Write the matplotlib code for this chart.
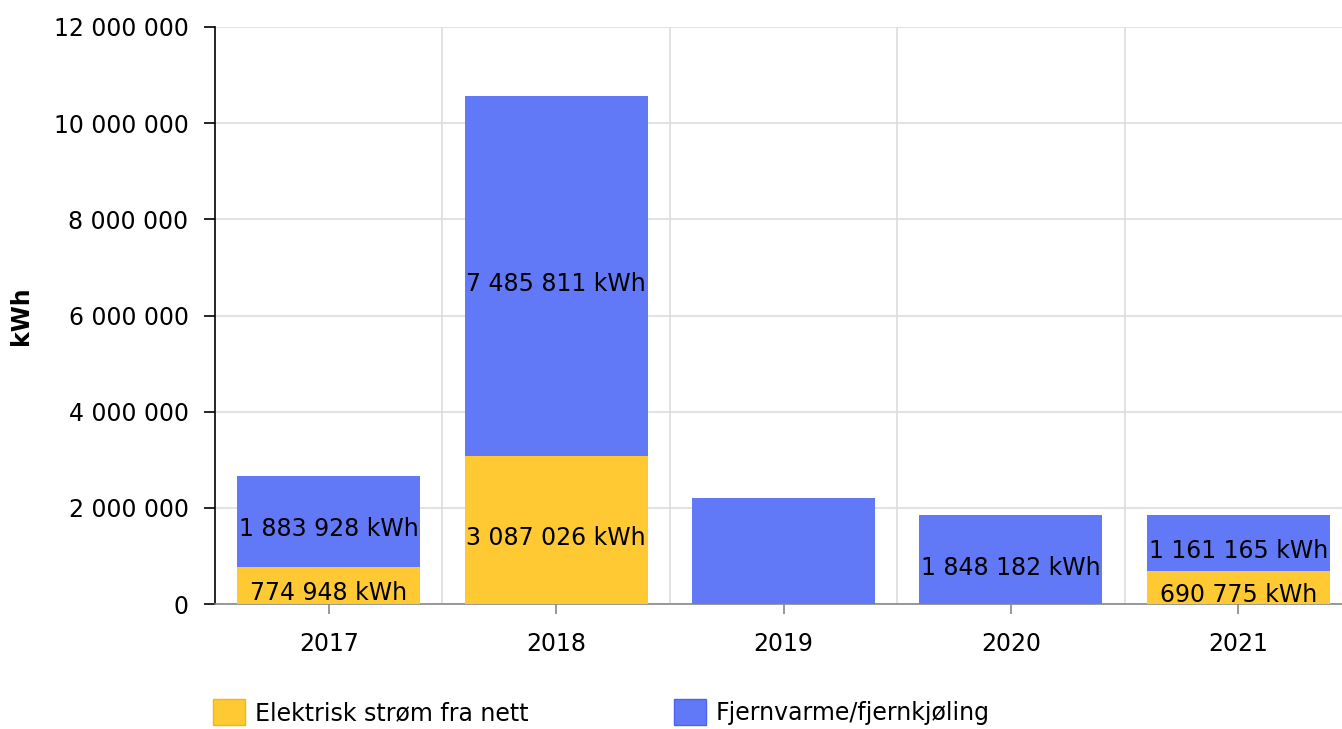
import matplotlib.pyplot as plt
from matplotlib.patches import Patch
from matplotlib.ticker import FuncFormatter, MultipleLocator
import numpy as np

years = ['2017', '2018', '2019', '2020', '2021']
el_values = [774948, 3087026, 0, 0, 690775]
fj_values = [1883928, 7485811, 2205000, 1848182, 1161165]
el_labels = ['774 948 kWh', '3 087 026 kWh', None, None, '690 775 kWh']
fj_labels = ['1 883 928 kWh', '7 485 811 kWh', None, '1 848 182 kWh', '1 161 165 kWh']

c_el = '#FEC932'
c_fj = '#6179F7'

fig = plt.figure(figsize=(13.42, 7.29), dpi=100)
ax = fig.add_axes([215 / 1342, 125 / 729, 1137 / 1342, 577 / 729])

x = np.arange(len(years))
ax.bar(x, el_values, width=0.805, color=c_el, zorder=3)
ax.bar(x, fj_values, width=0.805, bottom=el_values, color=c_fj, zorder=3)

for i in range(len(years)):
    if el_labels[i]:
        ax.annotate(el_labels[i], (x[i], el_values[i] / 2), xytext=(0, -8),
                    textcoords='offset pixels', ha='center', va='center',
                    fontsize=17, zorder=4)
    if fj_labels[i]:
        ax.annotate(fj_labels[i], (x[i], el_values[i] + fj_values[i] / 2), xytext=(0, -8),
                    textcoords='offset pixels', ha='center', va='center',
                    fontsize=17, zorder=4)

ax.set_xlim(-0.5, 4.5)
ax.set_ylim(0, 12000000)
ax.yaxis.set_major_locator(MultipleLocator(2000000))
ax.yaxis.set_major_formatter(FuncFormatter(lambda v, p: f'{int(v):,}'.replace(',', ' ')))
ax.set_xticks(x)
ax.set_xticklabels(years)
ax.set_xticks(np.arange(0.5, 4.5, 1), minor=True)

ax.grid(axis='y', which='major', color='#dddddd', linewidth=1.2, zorder=0)
ax.grid(axis='x', which='minor', color='#dddddd', linewidth=1.2, zorder=0)
ax.tick_params(axis='x', which='minor', length=0)
ax.tick_params(axis='y', length=8, width=1.2, labelsize=17, pad=11)
ax.tick_params(axis='x', which='major', length=7.5, width=1.2, color='#888888', labelsize=17, pad=13)

for s in ['top', 'right']:
    ax.spines[s].set_visible(False)
ax.spines['left'].set_linewidth(1.2)
ax.spines['bottom'].set_color('#888888')
ax.spines['bottom'].set_linewidth(1.2)

ax.set_ylabel('kWh', fontsize=17, fontweight='bold', labelpad=15)

handles = [Patch(facecolor=c_el, edgecolor='#F5B800', label='Elektrisk strøm fra nett'),
           Patch(facecolor=c_fj, edgecolor='#4A63F0', label='Fjernvarme/fjernkjøling')]
fig.legend(handles=handles, loc='upper left', bbox_to_anchor=(213 / 1342, 1 - 699 / 729),
           ncol=2, frameon=False, fontsize=17, handlelength=1.35, handleheight=1.3,
           handletextpad=0.42, columnspacing=6.17, borderpad=0, borderaxespad=0)

fig.savefig('out.png', dpi=100)
